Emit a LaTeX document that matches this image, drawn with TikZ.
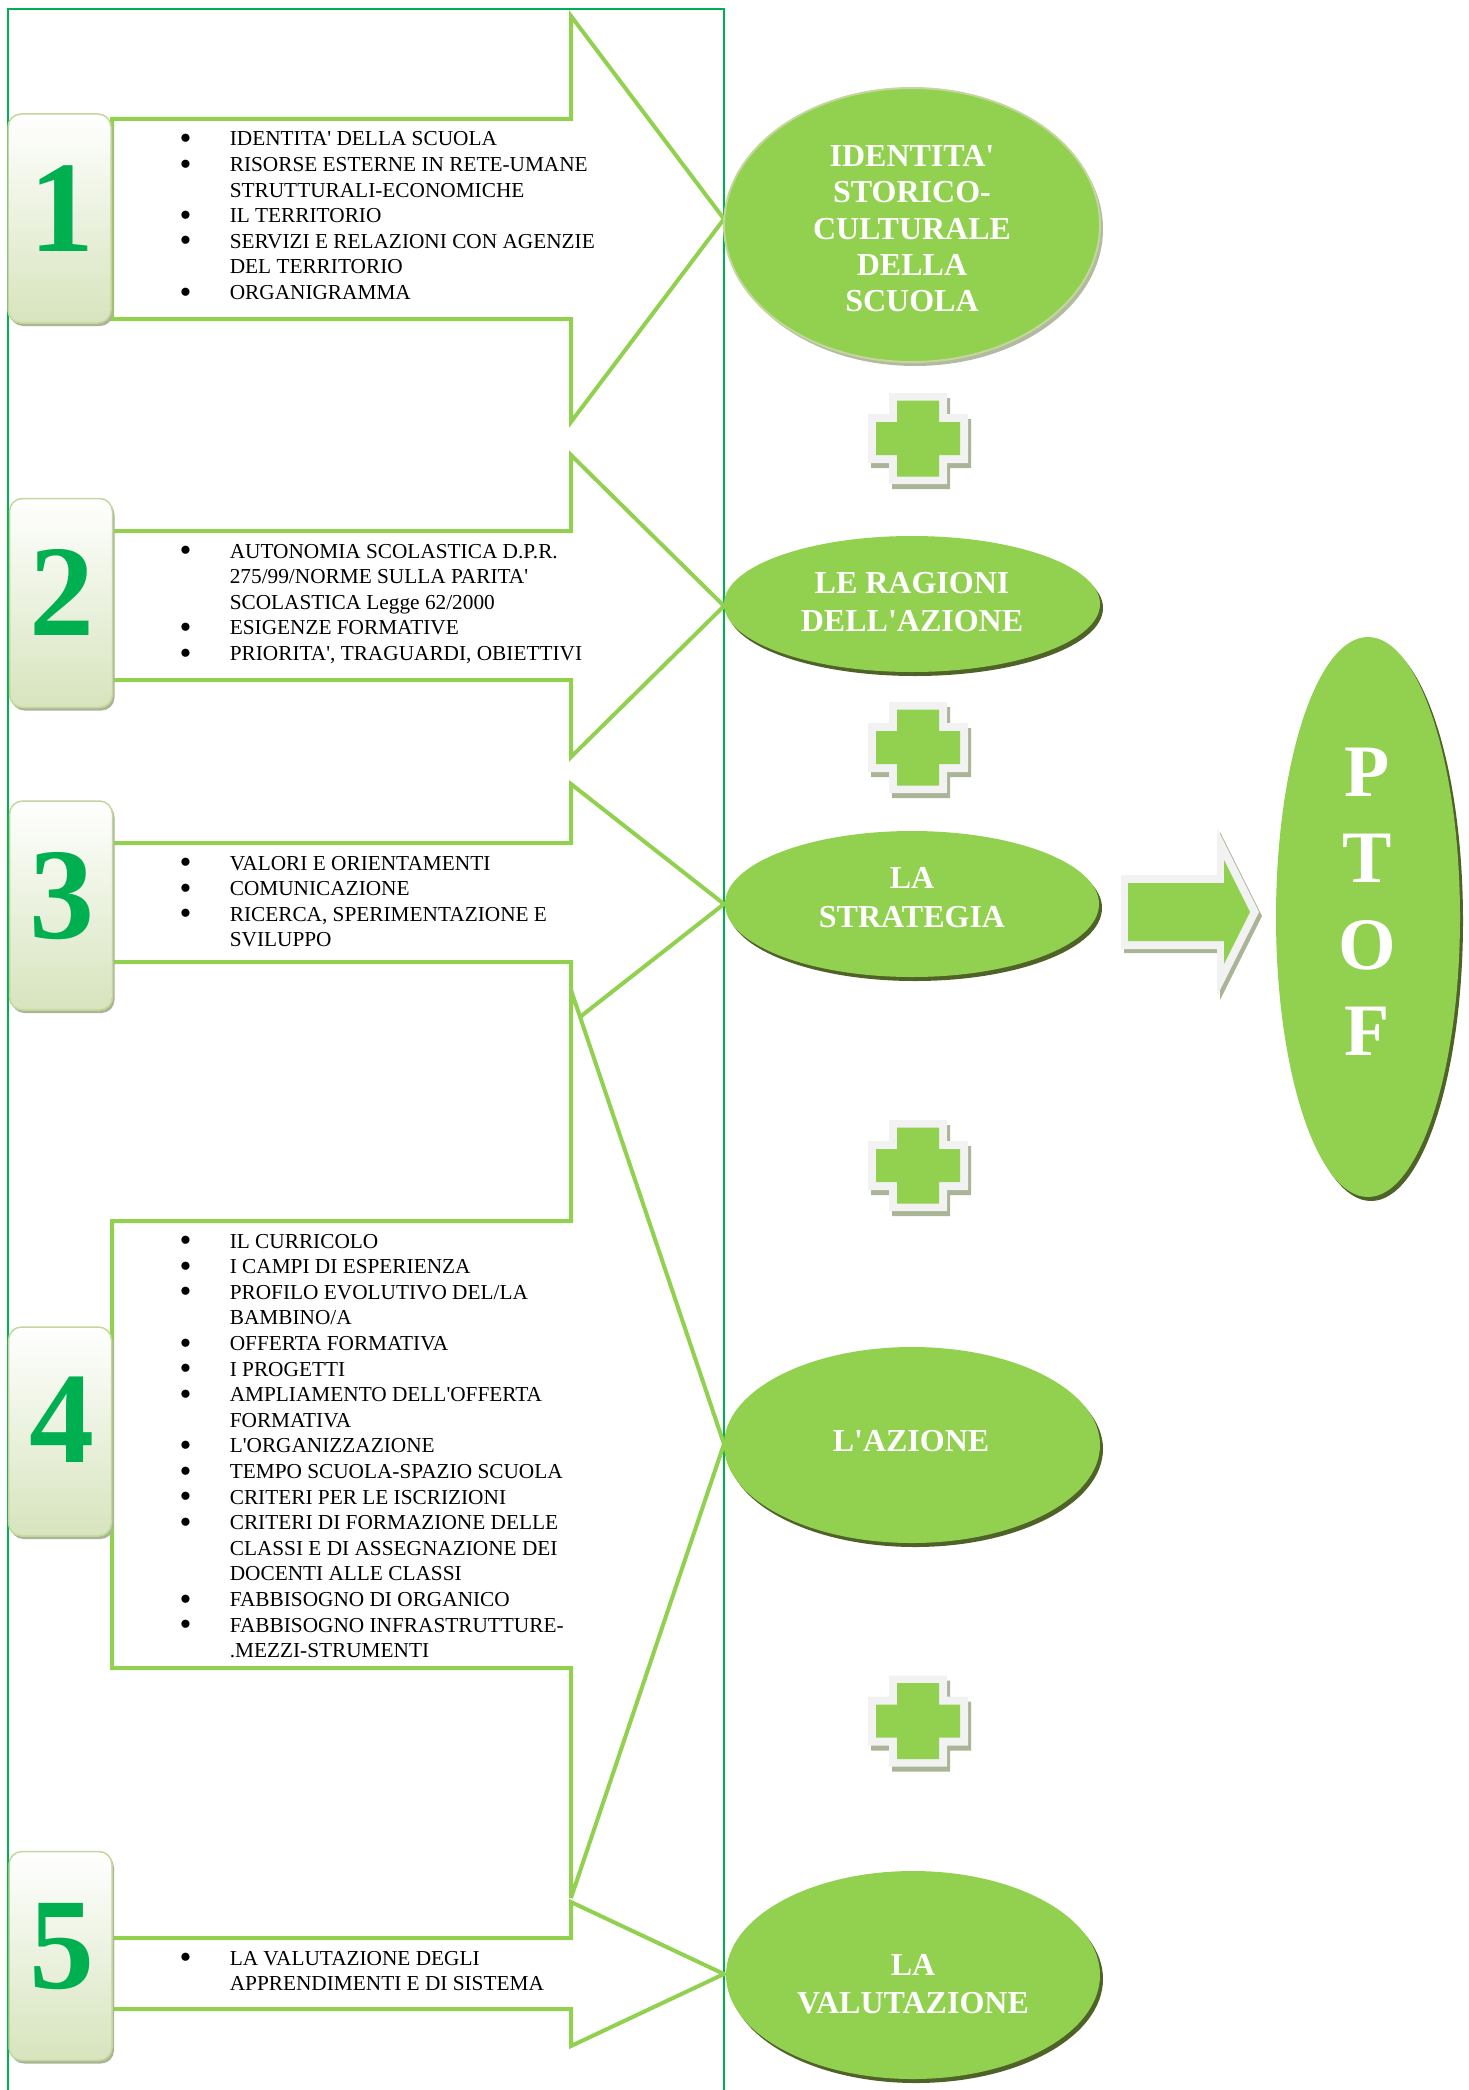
\documentclass[tikz,border=0pt]{standalone}
\usepackage{fontspec}
\setmainfont{Liberation Serif}[Ligatures=TeXOff]
\usetikzlibrary{shapes.geometric,shadows}
\definecolor{lgreen}{RGB}{146,208,80}
\definecolor{dgreen}{RGB}{0,176,80}
\definecolor{boxline}{RGB}{195,214,155}
\definecolor{boxbot}{RGB}{215,228,189}
\definecolor{shadowolive}{RGB}{79,98,40}
\definecolor{paleg}{RGB}{242,242,242}
\definecolor{crossshadow}{RGB}{170,180,150}
\definecolor{eoneshadow}{RGB}{178,186,160}
\newcommand{\blt}{\makebox[47.7pt][l]{\hspace*{-2.5pt}\smash{\raisebox{-3.6pt}{\fontsize{34}{34}\selectfont\textbullet}}}}
\newcommand{\contl}{\hspace*{47.7pt}}
\tikzset{
  frameline/.style={draw=dgreen, line width=2pt},
  bigarrow/.style={draw=lgreen, fill=white, line width=4pt, miter limit=4},
  numbox/.style={rectangle, rounded corners=13pt, draw=boxline, line width=1.5pt,
    top color=white, bottom color=boxbot, minimum width=103pt, minimum height=209pt,
    inner sep=0pt, general shadow={fill=crossshadow, shadow xshift=2pt, shadow yshift=-3pt}},
  numtxt/.style={anchor=base, text=dgreen, font=\fontsize{130}{130}\selectfont\bfseries, inner sep=0pt},
  listtxt/.style={anchor=base west, inner sep=0pt, font=\fontsize{21.3}{25.6}\selectfont},
  ellbase/.style={ellipse, fill=lgreen, inner sep=0pt},
  ellfirst/.style={ellbase, draw=boxline, line width=2pt,
    general shadow={fill=eoneshadow, shadow xshift=3pt, shadow yshift=-4pt}},
  ellother/.style={ellbase,
    general shadow={fill=shadowolive, shadow xshift=3pt, shadow yshift=-4pt}},
  elltxt/.style={anchor=base, inner sep=0pt, text=white, font=\fontsize{32}{38}\selectfont\bfseries},
  plussign/.pic={
    \fill[crossshadow, shift={(3,5)}] (-29,-45.5) -- (29,-45.5) -- (29,-24.5) -- (50,-24.5) -- (50,24.5) -- (29,24.5) -- (29,45.5) -- (-29,45.5) -- (-29,24.5) -- (-50,24.5) -- (-50,-24.5) -- (-29,-24.5) -- cycle;
    \fill[paleg] (-29,-45.5) -- (29,-45.5) -- (29,-24.5) -- (50,-24.5) -- (50,24.5) -- (29,24.5) -- (29,45.5) -- (-29,45.5) -- (-29,24.5) -- (-50,24.5) -- (-50,-24.5) -- (-29,-24.5) -- cycle;
    \fill[lgreen] (-21,-38) -- (21,-38) -- (21,-16.5) -- (42,-16.5) -- (42,16.5) -- (21,16.5) -- (21,38) -- (-21,38) -- (-21,16.5) -- (-42,16.5) -- (-42,-16.5) -- (-21,-16.5) -- cycle;
  }
}
\begin{document}
\begin{tikzpicture}[x=1pt,y=-1pt]
\useasboundingbox (0,0) rectangle (1469,2090);
% frame
\draw[frameline] (8,2095) -- (8,9) -- (724,9) -- (724,2095);
% big arrows
\draw[bigarrow] (112,119) -- (571,119) -- (571,16) -- (724,219) -- (571,422) -- (571,319) -- (112,319) -- cycle;
\draw[bigarrow] (112,531) -- (571,531) -- (571,455) -- (724,606) -- (571,757) -- (571,680) -- (112,680) -- cycle;
\draw[bigarrow] (112,843) -- (571,843) -- (571,784) -- (724,904) -- (571,1024) -- (571,962) -- (112,962) -- cycle;
\draw[bigarrow] (112,1221) -- (571,1221) -- (571,990) -- (724,1444) -- (571,1898) -- (571,1668) -- (112,1668) -- cycle;
\draw[bigarrow] (112,1938) -- (571,1938) -- (571,1902) -- (724,1974) -- (571,2046) -- (571,2009) -- (112,2009) -- cycle;
% number boxes
\node[numbox] (b1) at (59.5,218.5) {};
\node[numbox] (b2) at (61,603) {};
\node[numbox] (b3) at (61,905.5) {};
\node[numbox] (b4) at (60,1431.5) {};
\node[numbox] (b5) at (60.5,1956) {};
\node[numtxt] (n1) at (62,251) {1};
\node[numtxt] (n2) at (62,635) {2};
\node[numtxt] (n3) at (62,938) {3};
\node[numtxt] (n4) at (62,1462) {4};
\node[numtxt] (n5) at (62,1988) {5};
% lists
\node[listtxt] (l1) at (181.9,146) {\begin{tabular}[t]{@{}l@{}}
\blt IDENTITA' DELLA SCUOLA\\
\blt RISORSE ESTERNE IN RETE-UMANE\\
\contl STRUTTURALI-ECONOMICHE\\
\blt IL TERRITORIO\\
\blt SERVIZI E RELAZIONI CON AGENZIE\\
\contl DEL TERRITORIO\\
\blt ORGANIGRAMMA\end{tabular}};
\node[listtxt] (l2) at (181.9,558) {\begin{tabular}[t]{@{}l@{}}
\blt AUTONOMIA SCOLASTICA D.P.R.\\
\contl 275/99/NORME SULLA PARITA'\\
\contl SCOLASTICA Legge 62/2000\\
\blt ESIGENZE FORMATIVE\\
\blt PRIORITA', TRAGUARDI, OBIETTIVI\end{tabular}};
\node[listtxt] (l3) at (181.9,870) {\begin{tabular}[t]{@{}l@{}}
\blt VALORI E ORIENTAMENTI\\
\blt COMUNICAZIONE\\
\blt RICERCA, SPERIMENTAZIONE E\\
\contl SVILUPPO\end{tabular}};
\node[listtxt] (l4) at (181.9,1248) {\begin{tabular}[t]{@{}l@{}}
\blt IL CURRICOLO\\
\blt I CAMPI DI ESPERIENZA\\
\blt PROFILO EVOLUTIVO DEL/LA\\
\contl BAMBINO/A\\
\blt OFFERTA FORMATIVA\\
\blt I PROGETTI\\
\blt AMPLIAMENTO DELL'OFFERTA\\
\contl FORMATIVA\\
\blt L'ORGANIZZAZIONE\\
\blt TEMPO SCUOLA-SPAZIO SCUOLA\\
\blt CRITERI PER LE ISCRIZIONI\\
\blt CRITERI DI FORMAZIONE DELLE\\
\contl CLASSI E DI ASSEGNAZIONE DEI\\
\contl DOCENTI ALLE CLASSI\\
\blt FABBISOGNO DI ORGANICO\\
\blt FABBISOGNO INFRASTRUTTURE-\\
\contl .MEZZI-STRUMENTI\end{tabular}};
\node[listtxt] (l5) at (181.9,1965) {\begin{tabular}[t]{@{}l@{}}
\blt LA VALUTAZIONE DEGLI\\
\contl APPRENDIMENTI E DI SISTEMA\end{tabular}};
% ellipses
\node[ellfirst, minimum width=376pt, minimum height=274pt] (e1) at (912,225) {};
\node[ellother, minimum width=376pt, minimum height=136pt] (e2) at (912,604) {};
\node[ellother, minimum width=374pt, minimum height=146pt] (e3) at (912,904) {};
\node[ellother, minimum width=376pt, minimum height=196pt] (e4) at (912,1445) {};
\node[ellother, minimum width=374pt, minimum height=208pt] (e5) at (913,1975) {};
\node[ellother, minimum width=184pt, minimum height=560pt] (ep) at (1368,917) {};
\begin{scope}
\clip (700,100) rectangle (1120,311);
\node[elltxt, font=\fontsize{32}{36.5}\selectfont\bfseries] (t1) at (912,166) {\begin{tabular}[t]{@{}c@{}}IDENTITA'\\STORICO-\\CULTURALE\\DELLA\\SCUOLA\end{tabular}};
\end{scope}
\node[elltxt] (t2) at (912,593) {\begin{tabular}[t]{@{}c@{}}LE RAGIONI\\DELL'AZIONE\end{tabular}};
\node[elltxt, font=\fontsize{32}{39}\selectfont\bfseries] (t3) at (912,888) {\begin{tabular}[t]{@{}c@{}}LA\\STRATEGIA\end{tabular}};
\node[elltxt] (t4) at (911,1451) {L'AZIONE};
\node[elltxt] (t5) at (913,1975) {\begin{tabular}[t]{@{}c@{}}LA\\VALUTAZIONE\end{tabular}};
\node[elltxt, font=\fontsize{74}{86.5}\selectfont\bfseries] (tp) at (1367,796) {\begin{tabular}[t]{@{}c@{}}P\\T\\O\\F\end{tabular}};
% plus signs
\pic at (918,438.5) {plussign};
\pic at (918,747.5) {plussign};
\pic at (918,1165.5) {plussign};
\pic at (918,1721) {plussign};
% block arrow to PTOF
\fill[crossshadow, shift={(3,4)}] (1121,875) -- (1217,875) -- (1217,828) -- (1259,912) -- (1217,996) -- (1217,949) -- (1121,949) -- cycle;
\fill[paleg] (1121,875) -- (1217,875) -- (1217,828) -- (1259,912) -- (1217,996) -- (1217,949) -- (1121,949) -- cycle;
\fill[lgreen] (1128,883) -- (1224,883) -- (1224,860) -- (1250,912) -- (1224,964) -- (1224,941) -- (1128,941) -- cycle;
\end{tikzpicture}
\end{document}
